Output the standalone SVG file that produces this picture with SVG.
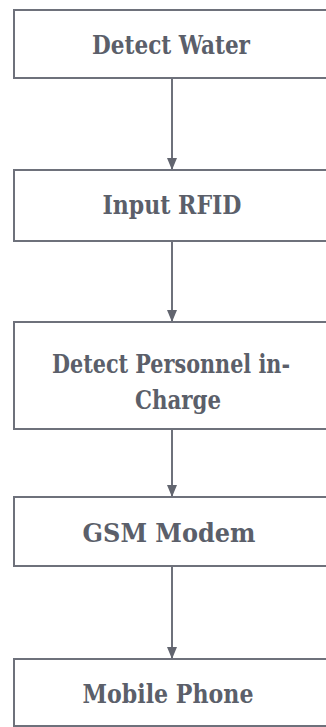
<svg xmlns="http://www.w3.org/2000/svg" width="326" height="727" viewBox="0 0 326 727">
<defs>
<style>
.box{fill:#ffffff;stroke:#6e717b;stroke-width:2}
.lbl{font-family:'DejaVu Serif Condensed','DejaVu Serif',serif;font-size:26px;font-weight:bold;fill:#5b5f6a;text-anchor:middle}
.con{stroke:#6e717b;stroke-width:2;fill:none}
</style>
<marker id="ah" viewBox="0 0 12 10" refX="12" refY="5" markerWidth="12" markerHeight="10" markerUnits="userSpaceOnUse" orient="auto">
<path d="M0,0 L12,5 L0,10 Z" fill="#62656f"/>
</marker>
</defs>
<rect width="326" height="727" fill="#ffffff"/>
<g id="connectors">
<line class="con" x1="172" y1="78" x2="172" y2="170" marker-end="url(#ah)"/>
<line class="con" x1="172" y1="241" x2="172" y2="322" marker-end="url(#ah)"/>
<line class="con" x1="172" y1="429" x2="172" y2="497" marker-end="url(#ah)"/>
<line class="con" x1="172" y1="566" x2="172" y2="659" marker-end="url(#ah)"/>
</g>
<g id="node-detect-water">
<rect class="box" x="14" y="10" width="316" height="68"/>
<text class="lbl" x="171" y="54" textLength="158" lengthAdjust="spacingAndGlyphs">Detect Water</text>
</g>
<g id="node-input-rfid">
<rect class="box" x="14" y="170" width="316" height="71"/>
<text class="lbl" x="172" y="214" textLength="139" lengthAdjust="spacingAndGlyphs">Input RFID</text>
</g>
<g id="node-detect-personnel">
<rect class="box" x="14" y="322" width="316" height="107"/>
<text class="lbl" x="171" y="373" textLength="238" lengthAdjust="spacingAndGlyphs">Detect Personnel in-</text>
<text class="lbl" x="178" y="409" textLength="86" lengthAdjust="spacingAndGlyphs">Charge</text>
</g>
<g id="node-gsm-modem">
<rect class="box" x="14" y="497" width="316" height="69"/>
<text class="lbl" x="169" y="542" textLength="173" lengthAdjust="spacingAndGlyphs">GSM Modem</text>
</g>
<g id="node-mobile-phone">
<rect class="box" x="14" y="659" width="316" height="67"/>
<text class="lbl" x="168" y="703" textLength="171" lengthAdjust="spacingAndGlyphs">Mobile Phone</text>
</g>
</svg>
